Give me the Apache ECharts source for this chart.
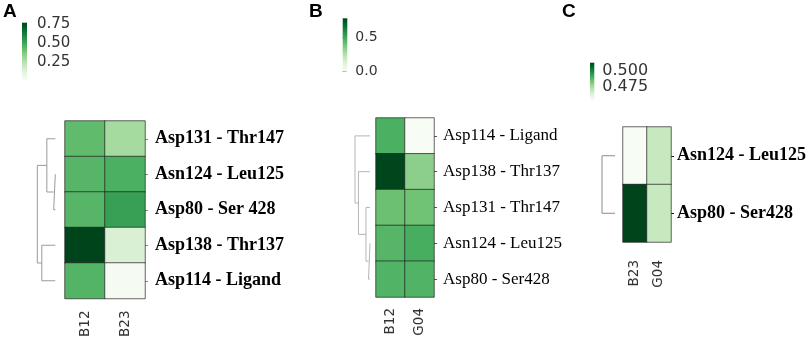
<!DOCTYPE html>
<html>
<head>
<meta charset="utf-8">
<script src="https://cdn.jsdelivr.net/npm/echarts@6/dist/echarts.min.js"></script>
<style>
  html, body { margin: 0; padding: 0; background: #fff; }
  #chart { width: 809px; height: 340px; }
</style>
</head>
<body>
<div id="chart"></div>
<script>
  // ---- panel A ----
  const rowsA = ['Asp131 - Thr147', 'Asn124 - Leu125', 'Asp80 - Ser 428', 'Asp138 - Thr137', 'Asp114 - Ligand']
  const colsA = ['B12', 'B23']
  const valsA_B12 = [0.43, 0.45, 0.45, 0.77, 0.455]
  const valsA_B23 = [0.29, 0.47, 0.52, 0.15, 0.03]
  const rangeA = [0.02, 0.77]
  const tickValsA = [0.25, 0.5, 0.75]
  const tickTxtA = ['0.25', '0.50', '0.75']
  // linkage: [node, node, height]; leaves 0..n-1 in display order, merged nodes n, n+1, ...
  const linkA = [[1, 2, 0.09], [0, 5, 0.47], [3, 4, 0.75], [6, 7, 1.0]]

  // ---- panel B ----
  const rowsB = ['Asp114 - Ligand', 'Asp138 - Thr137', 'Asp131 - Thr147', 'Asn124 - Leu125', 'Asp80 - Ser428']
  const colsB = ['B12', 'G04']
  const valsB_B12 = [0.47, 0.78, 0.41, 0.45, 0.46]
  const valsB_G04 = [0.0, 0.34, 0.40, 0.48, 0.46]
  const rangeB = [0, 0.785]
  const tickValsB = [0, 0.5]
  const tickTxtB = ['0.0', '0.5']
  const linkB = [[3, 4, 0.1], [2, 5, 0.27], [1, 6, 0.77], [0, 7, 1.0]]

  // ---- panel C ----
  const rowsC = ['Asn124 - Leu125', 'Asp80 - Ser428']
  const colsC = ['B23', 'G04']
  const valsC_B23 = [0.455, 0.513]
  const valsC_G04 = [0.4695, 0.4695]
  const rangeC = [0.455, 0.513]
  const tickValsC = [0.475, 0.5]
  const tickTxtC = ['0.475', '0.500']
  const linkC = [[0, 1, 1.0]]

  const greens = ['#f7fcf5', '#e5f5e0', '#c7e9c0', '#a1d99b', '#74c476', '#41ab5d', '#238b45', '#006d2c', '#00441b']
  const serif = '"Liberation Serif", "Times New Roman", serif'
  const sans = '"DejaVu Sans", Verdana, sans-serif'

  const panels = [
    {
      rows: rowsA, cols: colsA, vals: [valsA_B12, valsA_B23], range: rangeA,
      tickVals: tickValsA, tickTxt: tickTxtA, link: linkA,
      heat: { left: 65, top: 121, width: 80, height: 177.5 },
      dend: { left: 37.3, width: 18, color: '#9a9a9a' },
      cbar: { left: 22, top: 22.7, width: 5, height: 57.3, margin: 10, font: 15 },
      rowFont: { fontSize: 18, fontWeight: 'bold', margin: 10, tick: '#888' },
      colMargin: 12
    },
    {
      rows: rowsB, cols: colsB, vals: [valsB_B12, valsB_G04], range: rangeB,
      tickVals: tickValsB, tickTxt: tickTxtB, link: linkB,
      heat: { left: 376, top: 118, width: 58, height: 179 },
      dend: { left: 355, width: 15, color: '#b5b5b5' },
      cbar: { left: 342.7, top: 18.3, width: 4.6, height: 53.4, margin: 8, font: 14 },
      rowFont: { fontSize: 17, fontWeight: 'normal', margin: 9, tick: '#555' },
      colMargin: 11
    },
    {
      rows: rowsC, cols: colsC, vals: [valsC_B23, valsC_G04], range: rangeC,
      tickVals: tickValsC, tickTxt: tickTxtC, link: linkC,
      heat: { left: 623, top: 127, width: 58, height: 115 },
      dend: { left: 602, width: 13, color: '#8a8a8a' },
      cbar: { left: 590, top: 62.7, width: 4.3, height: 37.3, margin: 8, font: 16 },
      rowFont: { fontSize: 18, fontWeight: 'bold', margin: 6, tick: '#111' },
      colMargin: 18
    }
  ]

  const grid = [], xAxis = [], yAxis = [], series = [], visualMap = []

  panels.forEach((p) => {
    const gi = grid.length
    const n = p.rows.length

    // heatmap
    grid.push({ left: p.heat.left, top: p.heat.top, width: p.heat.width, height: p.heat.height })
    xAxis.push({
      type: 'category', gridIndex: gi, data: p.cols,
      axisLine: { show: false }, axisTick: { show: false }, splitLine: { show: false },
      axisLabel: { rotate: 90, margin: p.colMargin, fontFamily: sans, fontSize: 13.5, color: '#333' }
    })
    yAxis.push({
      type: 'category', gridIndex: gi, data: p.rows, inverse: true, position: 'right',
      axisLine: { show: false }, splitLine: { show: false },
      axisTick: { show: true, alignWithLabel: true, length: 3, lineStyle: { color: p.rowFont.tick } },
      axisLabel: {
        margin: p.rowFont.margin, fontFamily: serif, fontSize: p.rowFont.fontSize,
        fontWeight: p.rowFont.fontWeight, color: '#000'
      }
    })
    const data = []
    p.vals.forEach((col, ci) => col.forEach((v, ri) => data.push([ci, ri, v])))
    visualMap.push({
      show: false, type: 'continuous', seriesIndex: series.length,
      min: p.range[0], max: p.range[1], dimension: 2, inRange: { color: greens }
    })
    series.push({
      type: 'heatmap', xAxisIndex: gi, yAxisIndex: gi, data: data, silent: true,
      itemStyle: { borderColor: 'rgba(30,30,30,0.85)', borderWidth: 0.8 }
    })

    // dendrogram
    grid.push({ left: p.dend.left, top: p.heat.top, width: p.dend.width, height: p.heat.height })
    xAxis.push({ type: 'value', gridIndex: gi + 1, min: 0, max: 1, inverse: true, show: false })
    yAxis.push({ type: 'value', gridIndex: gi + 1, min: -0.5, max: n - 0.5, inverse: true, show: false })
    const pos = []
    for (let i = 0; i < n; i++) pos.push([0, i])
    p.link.forEach(([a, b, h]) => {
      const A = pos[a], B = pos[b]
      series.push({
        type: 'line', xAxisIndex: gi + 1, yAxisIndex: gi + 1, symbol: 'none', silent: true,
        lineStyle: { color: p.dend.color, width: 1 },
        data: [[A[0], A[1]], [h, A[1]], [h, B[1]], [B[0], B[1]]]
      })
      pos.push([h, (A[1] + B[1]) / 2])
    })

    // colour bar
    grid.push({ left: p.cbar.left, top: p.cbar.top, width: p.cbar.width, height: p.cbar.height })
    xAxis.push({ type: 'value', gridIndex: gi + 2, min: 0, max: 1, show: false })
    yAxis.push({
      type: 'value', gridIndex: gi + 2, min: p.range[0], max: p.range[1], position: 'right',
      axisLine: { show: false }, splitLine: { show: false },
      axisTick: { show: true, length: 4, customValues: p.tickVals, lineStyle: { color: '#333' } },
      axisLabel: {
        customValues: p.tickVals, hideOverlap: false, showMinLabel: true, showMaxLabel: true,
        margin: p.cbar.margin, fontFamily: sans, fontSize: p.cbar.font, color: '#333',
        formatter: (v) => p.tickTxt[p.tickVals.indexOf(v)] ?? ''
      }
    })
    const stops = greens.slice().reverse().map((c, i) => ({ offset: i / (greens.length - 1), color: c }))
    series.push({
      type: 'custom', xAxisIndex: gi + 2, yAxisIndex: gi + 2, silent: true,
      data: [[0, p.range[0], p.range[1]]],
      encode: { x: 0, y: [1, 2] },
      renderItem(params, api) {
        const lo = api.coord([0, api.value(1)])
        const hi = api.coord([1, api.value(2)])
        return {
          type: 'rect',
          shape: { x: lo[0], y: hi[1], width: hi[0] - lo[0], height: lo[1] - hi[1] },
          style: { fill: new echarts.graphic.LinearGradient(0, 0, 0, 1, stops) }
        }
      }
    })
  })

  const chart = echarts.init(document.getElementById('chart'))
  chart.setOption({
    animation: false,
    title: [
      { text: 'A', left: 3, top: 2 },
      { text: 'B', left: 309, top: 2 },
      { text: 'C', left: 562, top: 2 }
    ].map(t => Object.assign(t, {
      padding: 0,
      textStyle: { fontFamily: '"Liberation Sans", Arial, sans-serif', fontSize: 19, fontWeight: 'bold', color: '#000' }
    })),
    grid: grid,
    xAxis: xAxis,
    yAxis: yAxis,
    visualMap: visualMap,
    series: series
  })
</script>
</body>
</html>
